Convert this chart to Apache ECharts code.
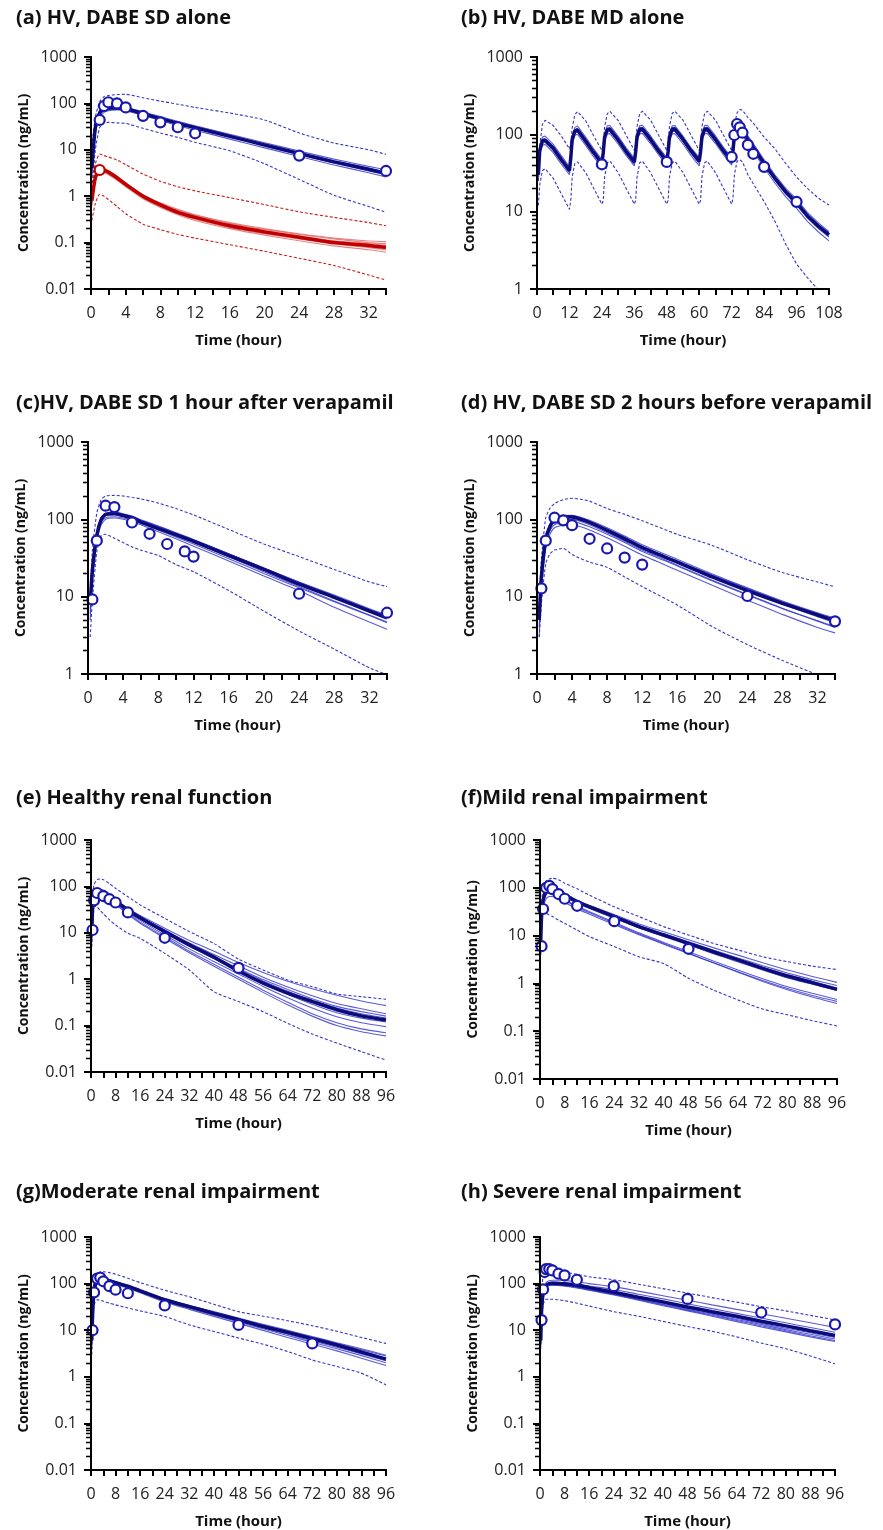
<!DOCTYPE html>
<html>
<head>
<meta charset="utf-8">
<script src="https://cdn.jsdelivr.net/npm/echarts@6/dist/echarts.min.js"></script>
<style>
html,body{margin:0;padding:0;background:#fff;}
#wrap{position:relative;width:883px;height:1530px;}
#chart{position:absolute;left:0;top:0;width:883px;height:1530px;}
.axlayer{position:absolute;left:0;top:0;width:883px;height:1530px;pointer-events:none;}
</style>
</head>
<body>
<div id="wrap"><div id="chart"></div></div>
<script>
// ---------------- DATA ----------------
// (a) HV, DABE SD alone
const aT = [0.1,0.5,1,1.5,2,3,4,6,8,10,12,16,20,24,28,32,34];
const aMean = [4,30,62,76,80,80,77,60,47,37,30,19.5,12.7,8.3,5.5,3.8,3.1];
const aUp = [12,50,110,140,148,155,157,132,112,96,82,62,44,23,14,10,8];
const aLo = [1.5,10,30,38,39,38,37,29,23,18.5,14.5,9.5,5,2.3,1.05,0.6,0.45];
const aTr1 = [5,38,72,86,90,88,84,66,52,41,33,21.5,14.2,9.4,6.3,4.4,3.7];
const aTr2 = [3,26,56,70,75,76,74,58,45,36,29,19,12.5,8.2,5.4,3.7,3.1];
const aTr3 = [4,33,66,80,83,82,78,61,48,37,29.5,19,12.3,7.9,5.2,3.5,2.9];
const aTr4 = [2.5,22,50,64,70,72,70,55,43,33,26.5,17,11,7.2,4.7,3.2,2.6];
const aTr5 = [5,35,68,78,80,79,76,60,47,37,30,20,13.2,8.7,5.8,4.0,3.3];
const aTr6 = [3.5,28,60,74,79,80,77,61,48,38,31,20,13,8.4,5.5,3.7,3.0];
const aObsT = [1,1.5,2,3,4,6,8,10,12,24,34];
const aObsC = [44,88,106,100,82,54,39,30.6,22.7,7.5,3.5];
const aRedMean = [0.8,2.5,3.8,3.6,3.3,2.5,1.8,1.0,0.65,0.45,0.35,0.23,0.17,0.13,0.1,0.087,0.079];
const aRedUp = [1.5,5,8.1,7.5,7,6,4.8,3,2.1,1.6,1.3,0.93,0.66,0.46,0.35,0.27,0.23];
const aRedLo = [0.3,0.7,1.1,1.0,0.85,0.6,0.42,0.25,0.19,0.15,0.125,0.09,0.065,0.046,0.032,0.02,0.0156];
const aRed1 = [0.9,2.8,4.1,3.9,3.5,2.6,1.9,1.05,0.7,0.5,0.39,0.26,0.19,0.15,0.12,0.1,0.095];
const aRed2 = [0.7,2.3,3.5,3.4,3.1,2.3,1.65,0.92,0.6,0.42,0.32,0.21,0.155,0.12,0.093,0.078,0.07];
const aRed3 = [0.85,2.6,3.9,3.7,3.4,2.55,1.85,1.02,0.68,0.48,0.37,0.25,0.18,0.14,0.11,0.095,0.088];
const aRed4 = [0.6,2.1,3.3,3.2,2.9,2.2,1.6,0.88,0.57,0.4,0.3,0.2,0.145,0.11,0.085,0.07,0.062];
const aRed5 = [0.95,3.0,4.2,4.0,3.6,2.7,1.95,1.08,0.72,0.52,0.4,0.27,0.2,0.155,0.125,0.108,0.105];
const aRed6 = [0.75,2.4,3.7,3.5,3.2,2.45,1.75,0.97,0.63,0.44,0.34,0.22,0.165,0.125,0.097,0.082,0.075];
const aRedObsT = [1];
const aRedObsC = [3.67];

// (b) HV, DABE MD alone
const bT = [0.5,1,2,3,6,9,12, 12.5,13,14,15,18,21,24, 24.5,25,26,27,30,33,36, 36.5,37,38,39,42,45,48, 48.5,49,50,51,54,57,60, 60.5,61,62,63,66,69,72, 72.5,73,74,75,76,78,80,84,88,92,96,100,104,108];
const bMean = [30,62,82,84,66,47,34, 50,85,110,114,82,58,42, 58,92,115,116,85,60,44, 60,93,116,117,86,61,45, 60,93,116,117,86,61,45, 60,93,116,117,86,61,45, 62,95,117,118,110,86,68,42,27,18,13,8.8,6.5,5.0];
const bUp = [25,70,135,152,130,95,65, 75,120,180,196,150,95,62, 75,125,185,198,152,97,62, 76,126,186,199,153,97,62, 76,126,186,199,153,97,62, 76,126,186,199,153,97,62, 80,130,190,210,205,165,140,92,65,42,28,20,15,12.2];
const bLo = [12,22,34,36,27,17,10.7, 14,28,42,44,32,20,12.5, 14,28,43,45,32,20,12.5, 14,28,43,45,32,20,12.5, 14,28,43,45,32,20,12.5, 14,28,43,45,32,20,12.5, 15,30,45,47,44,30,23,13.5,7.5,3.8,2.1,1.4,0.98,0.7];
const bTr1 = [34,70,92,95,74,53,38, 56,95,123,128,92,65,47, 65,103,129,130,95,67,49, 67,104,130,131,96,68,50, 66,103,129,130,95,67,50, 67,104,130,131,96,68,50, 69,106,131,132,123,96,76,47,30,20,14.5,9.8,7.2,5.5];
const bTr2 = [25,54,72,74,58,41,30, 44,75,97,100,72,51,37, 51,81,101,102,75,53,39, 53,82,102,103,76,54,40, 52,81,101,102,75,53,39, 53,82,102,103,76,54,40, 55,84,103,104,97,76,60,37,23.5,15.5,11,7.5,5.5,4.2];
const bTr3 = [32,66,86,88,70,50,36, 53,89,115,120,86,61,44, 61,97,121,122,89,63,46, 63,98,122,123,90,64,47, 63,98,122,123,90,64,47, 63,98,122,123,90,64,47, 65,100,123,124,116,90,71,44,28.5,19,13.8,9.3,6.9,5.3];
const bTr4 = [28,58,77,79,62,44,32, 47,80,103,107,77,55,39.5, 55,86,108,109,80,56,41, 56,87,109,110,81,57,42, 56,87,109,110,81,57,42, 56,87,109,110,81,57,42, 58,89,110,111,103,81,64,39.5,25.5,17,12.2,8.3,6.1,4.7];
const bObsT = [24,48,72,73,74,75,76,78,80,84,96];
const bObsC = [41,44,51,98,136,123,105,73,56,38,13.4];

// (c) HV, DABE SD 1 hour after verapamil
const cT = [0.25,0.5,1,1.5,2,3,4,5,6,8,10,12,16,20,24,28,32,34];
const cMean = [8,22,62,100,116,118,112,105,92,76,63,52,34,22.5,14.5,9.8,6.5,5.3];
const cUp = [10,40,120,180,200,204,200,192,184,162,138,114,74,48,33,22.5,15.5,13.5];
const cLo = [3,9,38,62,64,57,50,44,40,34,26,21,12,6.5,3.6,2.1,1.2,0.98];
const cTr1 = [6,18,55,95,112,116,112,106,96,80,66,54,36,23.5,15.5,10.5,7.0,5.8];
const cTr2 = [10,26,68,104,120,124,118,110,99,82,67,55,36,23,15,10,6.8,5.6];
const cTr3 = [7,20,58,92,105,108,104,98,89,73,59,48,31,20,13,8.6,5.7,4.6];
const cTr4 = [9,24,64,102,118,122,116,108,98,81,66,54,35.5,23.5,15.3,10.2,6.8,5.6];
const cTr5 = [5,16,50,85,100,104,100,94,85,69,56,45,29,18.5,12,7.3,4.7,3.8];
const cTr6 = [8,22,60,98,113,116,110,103,93,77,62,51,33,21,13.5,8.8,5.8,4.7];
const cObsT = [0.5,1,2,3,5,7,9,11,12,24,34];
const cObsC = [9.2,53,150,144,91,65,48,38.5,33,10.9,6.2];

// (d) HV, DABE SD 2 hours before verapamil
const dT = [0.25,0.5,1,1.5,2,3,4,5,6,8,10,12,16,20,24,28,32,34];
const dMean = [5,18,55,82,98,107,107,100,91,72,56,43,28,18,12,8.2,5.8,4.9];
const dUp = [8,30,105,140,160,180,187,182,172,138,116,96,64,46,30,20.5,15.5,13.4];
const dLo = [3,8,27,36,40,42,35,31,28,24,18,13.5,7.8,4.1,2.4,1.5,0.98,0.85];
const dTr1 = [4,15,48,72,85,92,93,88,80,64,50,38.5,25,16,10.5,7.0,4.9,4.1];
const dTr2 = [6,21,60,88,105,113,112,105,95,75,59,45,29,19,12.8,8.6,6.0,5.1];
const dTr3 = [5,17,52,78,92,100,100,94,85,67,52,40,25.5,16.3,10.7,7.1,4.8,4.0];
const dTr4 = [6,20,58,86,103,112,113,106,97,78,61,47,30.5,19.6,13,8.8,6.2,5.3];
const dTr5 = [3,12,42,65,78,84,85,80,73,58,45,34.5,22,14,9,5.9,4.0,3.4];
const dTr6 = [5,19,56,84,100,109,109,102,92,73,57,44,28.5,18.3,12,8.0,5.5,4.6];
const dObsT = [0.5,1,2,3,4,6,8,10,12,24,34];
const dObsC = [12.8,53,105,97,84,56,42,32,26,10.2,4.8];

// (e) Healthy renal function
const eT = [0.25,0.5,1,2,3,4,6,8,12,16,24,32,40,48,56,64,72,80,88,96];
const eMean = [10,30,55,75,80,78,63,49,31,21,10.6,5.5,3.0,1.5,0.82,0.5,0.33,0.22,0.162,0.132];
const eUp = [20,60,110,140,145,140,115,91,60,40,20.5,10.6,5.9,2.7,1.58,0.96,0.69,0.48,0.42,0.37];
const eLo = [5,15,38,36,30,26,19,14.7,9.8,7.6,3.6,1.58,0.54,0.33,0.2,0.112,0.066,0.042,0.0275,0.018];
const eTr1 = [12,34,60,78,82,80,66,52,34,23.5,12.5,6.8,4.0,2.3,1.4,0.9,0.62,0.45,0.34,0.27];
const eTr2 = [9,28,52,72,78,77,63,50,32,22,11.5,6.0,3.4,1.95,1.1,0.68,0.44,0.3,0.23,0.18];
const eTr3 = [11,32,58,76,80,78,62,48,30,20,10.2,5.4,3.0,1.7,0.98,0.6,0.38,0.26,0.2,0.16];
const eTr4 = [8,26,50,70,76,75,61,48,30.5,20.5,10.3,5.3,2.9,1.6,0.92,0.55,0.35,0.24,0.18,0.145];
const eTr5 = [10,30,54,74,79,77,62,48,30,20,10,5.1,2.75,1.5,0.82,0.47,0.29,0.19,0.145,0.12];
const eTr6 = [7,24,48,68,74,72,58,45,28,18.5,9.0,4.5,2.4,1.3,0.7,0.4,0.24,0.155,0.115,0.095];
const eTr7 = [9,28,52,70,74,72,56,43,26,17,8.2,4.0,2.1,1.1,0.58,0.32,0.18,0.115,0.085,0.07];
const eTr8 = [6,22,45,64,70,68,54,41,25,16,7.6,3.7,1.9,1.0,0.52,0.28,0.16,0.1,0.074,0.06];
const eObsT = [0.5,1,2,4,6,8,12,24,48];
const eObsC = [11.5,50,72,62,53,45,27.5,7.8,1.75];

// (f) Mild renal impairment
const fT = [0.25,0.5,1,2,3,4,6,8,12,16,24,32,40,48,56,64,72,80,88,96];
const fMean = [8,25,55,88,98,98,85,71,51,40,25,15.4,10.3,6.9,4.6,3.1,2.07,1.43,1.04,0.75];
const fUp = [15,45,100,140,152,158,148,125,95,70,40,25,15.4,10.3,6.9,5,3.6,2.85,2.3,1.95];
const fLo = [4,12,29,29,27,25,21,18,13,9.5,5.9,3.6,2.6,1.28,0.73,0.45,0.29,0.22,0.166,0.129];
const fTr1 = [9,27,58,92,102,102,90,76,55,43,27.5,17.5,12,8.2,5.6,3.9,2.7,1.9,1.4,1.05];
const fTr2 = [7,24,52,85,95,96,84,71,51,40,25.5,16,10.9,7.4,5.0,3.4,2.35,1.65,1.2,0.9];
const fTr3 = [10,28,60,94,104,102,88,73,52,40.5,25.5,15.8,10.6,7.1,4.7,3.2,2.15,1.5,1.1,0.8];
const fTr4 = [6,20,46,74,84,86,76,64,47,37,23,14.5,9.6,6.4,4.2,2.8,1.9,1.3,0.96,0.72];
const fTr5 = [8,24,50,76,82,80,68,57,41,31.5,19,11.4,7.2,4.6,2.95,1.9,1.25,0.85,0.62,0.46];
const fTr6 = [5,16,38,60,66,66,58,49,36,28,17,10.4,6.6,4.2,2.7,1.75,1.15,0.78,0.56,0.42];
const fTr7 = [7,22,48,72,78,77,66,55,39,30,18,10.8,6.8,4.3,2.7,1.72,1.1,0.74,0.52,0.38];
const fObsT = [0.5,1,2,3,4,6,8,12,24,48];
const fObsC = [6,36,100,110,94,74,59,42,20,5.3];

// (g) Moderate renal impairment
const gT = [0.25,0.5,1,2,3,4,6,8,12,16,24,32,40,48,56,64,72,80,88,96];
const gMean = [6,20,70,115,125,122,115,105,88,70,45,32,23,16.8,12,9,6.6,4.8,3.4,2.4];
const gUp = [12,40,120,165,178,180,172,160,130,105,72,52,36,25,20,16,12.5,9.5,7,5.2];
const gLo = [3,10,35,45,44,42,38,35,30,26,19.7,13,9.4,6.8,5,3.5,2.3,1.66,1.2,0.67];
const gTr1 = [8,25,80,125,135,130,120,108,90,72,46,33,24,17.5,12.8,9.5,7,5.2,3.8,2.8];
const gTr2 = [5,17,62,105,115,114,108,99,83,66,42,29.5,21,15,10.7,7.7,5.5,4,2.85,2.0];
const gTr3 = [7,22,74,118,128,125,117,106,89,71,45.5,32.5,23.5,16.9,12.2,8.9,6.5,4.7,3.4,2.5];
const gTr4 = [4,15,58,100,110,110,104,96,80,64,40,28,19.8,14,9.9,7.0,5.0,3.6,2.5,1.75];
const gTr5 = [9,27,84,128,137,132,122,110,91,73,47,34,25,18.2,13.4,9.9,7.3,5.4,4.0,2.9];
const gTr6 = [6,19,68,110,120,118,111,101,85,68,43.5,31,22,15.8,11.4,8.2,5.9,4.3,3.1,2.2];
const gObsT = [0.5,1,2,3,4,6,8,12,24,48,72];
const gObsC = [10,65,128,135,112,88,74,62,34,13,5.2];

// (h) Severe renal impairment
const hT = [0.25,0.5,1,2,3,4,6,8,12,16,24,32,40,48,56,64,72,80,88,96];
const hMean = [6,25,60,92,100,102,101,99,92,82,65,51,40.5,31.5,25,19.9,15.5,12.4,9.75,7.7];
const hUp = [15,60,140,185,195,195,185,175,158,140,121,97,78,62.5,50,40,32,26,20.8,16.7];
const hLo = [5,15,35,46,46,46,45,43,38,33,25,20,15.5,12,9.5,7.2,5.3,4,2.8,1.9];
const hTr1 = [8,30,70,105,115,118,118,116,110,100,86,69,55,44,35,28,22.5,18,14.4,11.5];
const hTr2 = [7,27,64,98,106,108,107,104,98,89,75,59,47,37,29,23,18.2,14.4,11.4,9];
const hTr3 = [5,22,56,88,96,98,97,95,89,80,66,52,41,32,25.5,20,15.7,12.4,9.9,8];
const hTr4 = [6,24,58,90,98,99,98,95,88,78,62,48.5,38,29.5,23,18,14,11,8.8,7];
const hTr5 = [4,20,52,84,92,94,93,90,83,74,59,46,36,28,22,17,13.2,10.3,8.2,6.5];
const hTr6 = [5,22,55,86,93,95,94,91,84,75,59,45.5,35,27,21,16.2,12.5,9.7,7.6,6];
const hTr7 = [6,23,56,85,91,92,91,88,81,72,57,44,33.5,26,20,15.3,11.8,9.2,7.2,5.7];
const hObsT = [0.5,1,1.5,2,3,4,6,8,12,24,48,72,96];
const hObsC = [16.5,75,177,205,205,192,163,150,121,88,47,24,13.3];

// axis / text
const titles = ['(a) HV, DABE SD alone','(b) HV, DABE MD alone','(c)HV, DABE SD 1 hour after verapamil','(d) HV, DABE SD 2 hours before verapamil','(e) Healthy renal function','(f)Mild renal impairment','(g)Moderate renal impairment','(h) Severe renal impairment'];
const xMaxes = [34,108,34,34,96,96,96,96];
const xTickSteps = [2,6,2,2,4,4,4,4];
const xLabelSteps = [4,12,4,4,8,8,8,8];
const yMins = [0.01,1,1,1,0.01,0.01,0.01,0.01];
const yMaxes = [1000,1000,1000,1000,1000,1000,1000,1000];
const xName = 'Time (hour)';
const yName = 'Concentration (ng/mL)';

// ---------------- LAYOUT / STYLE ----------------
const FONT = "'Open Sans', 'Liberation Sans', sans-serif";
const gridPos = [
  {left:91, top:57, width:295, height:232},
  {left:537, top:57, width:292, height:232},
  {left:88, top:442, width:299, height:232},
  {left:537, top:442, width:298, height:232},
  {left:91, top:840, width:295, height:232},
  {left:540, top:840, width:297, height:239},
  {left:91, top:1237, width:295, height:233},
  {left:540, top:1237, width:295, height:233}
];
const titlePos = [[11,3],[456,3],[11,388],[456,388],[11,783],[456,783],[11,1177],[456,1177]];

const BLUE_THIN = 'rgba(50,50,205,0.8)';
const BLUE_MEAN = '#0c0c78';
const BLUE_DASH = '#3535c8';
const BLUE_OBS = '#1818b0';
const RED_THIN = 'rgba(220,80,80,0.7)';
const RED_MEAN = '#c00000';
const RED_DASH = '#c81e1e';

const panels = [
  {t:aT, mean:aMean, up:aUp, lo:aLo, trials:[aTr1,aTr2,aTr3,aTr4,aTr5,aTr6], obsT:aObsT, obsC:aObsC, smooth:0.2,
   red:{mean:aRedMean, up:aRedUp, lo:aRedLo, trials:[aRed1,aRed2,aRed3,aRed4,aRed5,aRed6], obsT:aRedObsT, obsC:aRedObsC}},
  {t:bT, mean:bMean, up:bUp, lo:bLo, trials:[bTr1,bTr2,bTr3,bTr4], obsT:bObsT, obsC:bObsC, smooth:false},
  {t:cT, mean:cMean, up:cUp, lo:cLo, trials:[cTr1,cTr2,cTr3,cTr4,cTr5,cTr6], obsT:cObsT, obsC:cObsC, smooth:0.2},
  {t:dT, mean:dMean, up:dUp, lo:dLo, trials:[dTr1,dTr2,dTr3,dTr4,dTr5,dTr6], obsT:dObsT, obsC:dObsC, smooth:0.2},
  {t:eT, mean:eMean, up:eUp, lo:eLo, trials:[eTr1,eTr2,eTr3,eTr4,eTr5,eTr6,eTr7,eTr8], obsT:eObsT, obsC:eObsC, smooth:0.2},
  {t:fT, mean:fMean, up:fUp, lo:fLo, trials:[fTr1,fTr2,fTr3,fTr4,fTr5,fTr6,fTr7], obsT:fObsT, obsC:fObsC, smooth:0.2},
  {t:gT, mean:gMean, up:gUp, lo:gLo, trials:[gTr1,gTr2,gTr3,gTr4,gTr5,gTr6], obsT:gObsT, obsC:gObsC, smooth:0.2},
  {t:hT, mean:hMean, up:hUp, lo:hLo, trials:[hTr1,hTr2,hTr3,hTr4,hTr5,hTr6,hTr7], obsT:hObsT, obsC:hObsC, smooth:0.2}
];

function pairs(t, c){ return t.map((x,i)=>[x,c[i]]); }

// ---------- main chart: titles, labels, names, all series ----------
const grid=[], xAxis=[], yAxis=[], series=[], title=[];
panels.forEach((p,i)=>{
  grid.push(Object.assign({}, gridPos[i]));
  title.push({text:titles[i], left:titlePos[i][0], top:titlePos[i][1],
    textStyle:{fontFamily:FONT, fontWeight:'bold', fontSize:20, color:'#111'}});
  const ls = xLabelSteps[i];
  xAxis.push({type:'value', gridIndex:i, min:0, max:xMaxes[i], interval:xTickSteps[i],
    name:xName, nameLocation:'middle', nameGap:44,
    nameTextStyle:{fontFamily:FONT, fontWeight:'bold', fontSize:15, color:'#111'},
    axisLine:{show:true, onZero:false, lineStyle:{color:'#000', width:2}},
    axisTick:{show:true, length:6, lineStyle:{color:'#000', width:2}},
    axisLabel:{formatter:v=> (Math.abs(v % ls) < 1e-9 ? String(v) : ''),
      margin:16, fontFamily:FONT, fontSize:16, color:'#222', showMinLabel:true, showMaxLabel:true},
    splitLine:{show:false}});
  yAxis.push({type:'log', gridIndex:i, min:yMins[i], max:yMaxes[i],
    name:yName, nameLocation:'middle', nameGap:60,
    nameTextStyle:{fontFamily:FONT, fontWeight:'bold', fontSize:14, color:'#111'},
    axisLine:{show:true, lineStyle:{color:'#000', width:2}},
    axisTick:{show:true, length:7, lineStyle:{color:'#000', width:2}},
    minorTick:{show:true, splitNumber:9, length:5, lineStyle:{color:'#000', width:1.3}},
    axisLabel:{margin:14, fontFamily:FONT, fontSize:16, color:'#222',
      formatter:v=> String(+(+v).toPrecision(3))},
    splitLine:{show:false}});

  const addGroup = (g, thinC, meanC, dashC)=>{
    series.push({type:'line', xAxisIndex:i, yAxisIndex:i, showSymbol:false, smooth:p.smooth, z:2,
      data:pairs(p.t, g.up), lineStyle:{color:dashC, width:1.1, type:[3,2]}});
    series.push({type:'line', xAxisIndex:i, yAxisIndex:i, showSymbol:false, smooth:p.smooth, z:2,
      data:pairs(p.t, g.lo), lineStyle:{color:dashC, width:1.1, type:[3,2]}});
    g.trials.forEach(tr=>{
      series.push({type:'line', xAxisIndex:i, yAxisIndex:i, showSymbol:false, smooth:p.smooth, z:3,
        data:pairs(p.t, tr), lineStyle:{color:thinC, width:1.1}});
    });
    series.push({type:'line', xAxisIndex:i, yAxisIndex:i, showSymbol:false, smooth:p.smooth, z:4,
      data:pairs(p.t, g.mean), lineStyle:{color:meanC, width:3.5}});
  };
  addGroup(p, BLUE_THIN, BLUE_MEAN, BLUE_DASH);
  if(p.red) addGroup(p.red, RED_THIN, RED_MEAN, RED_DASH);

  series.push({type:'scatter', xAxisIndex:i, yAxisIndex:i, symbol:'circle', symbolSize:10, z:6,
    data:pairs(p.obsT, p.obsC),
    itemStyle:{color:'#ffffff', opacity:1, borderColor:BLUE_OBS, borderWidth:2.2}});
  if(p.red){
    series.push({type:'scatter', xAxisIndex:i, yAxisIndex:i, symbol:'circle', symbolSize:10, z:6,
      data:pairs(p.red.obsT, p.red.obsC),
      itemStyle:{color:'#ffffff', opacity:1, borderColor:RED_MEAN, borderWidth:2.2}});
  }
});

const chart = echarts.init(document.getElementById('chart'), null, {renderer:'canvas'});
chart.setOption({backgroundColor:'#fff', animation:false, title, grid, xAxis, yAxis, series});

// ---------- axis layers: one light instance per panel, drawing axis line + major/minor ticks ----------
const wrap = document.getElementById('wrap');
panels.forEach((p,i)=>{
  const div = document.createElement('div');
  div.className = 'axlayer';
  wrap.appendChild(div);
  const ax = echarts.init(div, null, {renderer:'canvas'});
  ax.setOption({animation:false, backgroundColor:'rgba(0,0,0,0)',
    grid:[Object.assign({}, gridPos[i])],
    xAxis:[{type:'value', min:0, max:xMaxes[i], interval:xTickSteps[i],
      axisLine:{show:true, onZero:false, lineStyle:{color:'#000', width:2}},
      axisTick:{show:true, length:6, lineStyle:{color:'#000', width:2}},
      axisLabel:{show:false}, splitLine:{show:false}}],
    yAxis:[{type:'log', min:yMins[i], max:yMaxes[i],
      axisLine:{show:true, lineStyle:{color:'#000', width:2}},
      axisTick:{show:true, length:7, lineStyle:{color:'#000', width:2}},
      minorTick:{show:true, splitNumber:9, length:5, lineStyle:{color:'#000', width:1.3}},
      axisLabel:{show:false}, splitLine:{show:false}}],
    series:[{type:'line', data:[], showSymbol:false}]
  });
});
</script>
</body>
</html>
